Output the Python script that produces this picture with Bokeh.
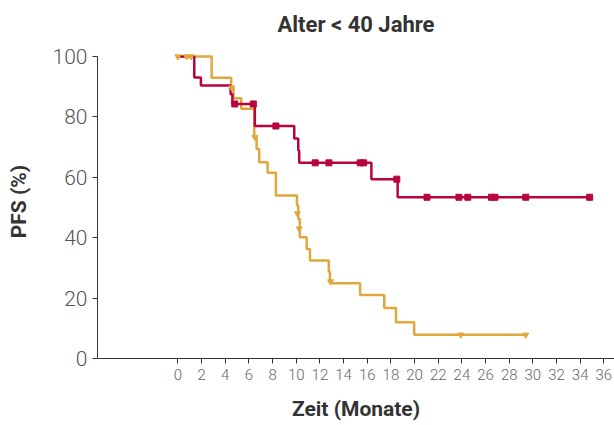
from bokeh.plotting import figure
from bokeh.models import Range1d, FixedTicker
from bokeh.embed import file_html
from bokeh.resources import INLINE

# Kaplan-Meier step data (time in months, PFS in %)
red_t = [0, 1.38, 1.94, 4.45, 4.6, 6.5, 9.83, 10.17, 10.25, 16.35, 18.57, 34.8]
red_s = [100, 93.1, 90.4, 87.5, 84.3, 77.0, 72.9, 68.9, 64.8, 59.4, 53.4, 53.4]
red_cens_t = [4.8, 6.37, 8.28, 11.6, 12.76, 15.4, 15.7, 18.5, 21.05, 23.75, 24.5, 26.5, 26.8, 29.4, 34.8]
red_cens_s = [84.3, 84.3, 77.0, 64.8, 64.8, 64.8, 64.8, 59.4, 53.4, 53.4, 53.4, 53.4, 53.4, 53.4, 53.4]

gold_t = [0, 2.85, 4.5, 4.7, 5.35, 6.45, 6.65, 6.87, 7.58, 8.28, 10.06, 10.17, 10.3,
          10.88, 11.16, 12.75, 12.85, 15.4, 17.44, 18.43, 19.97, 29.4]
gold_s = [100, 93.0, 89.7, 86.2, 82.7, 73.3, 69.4, 65.0, 61.5, 54.0, 50.7, 46.2, 40.2,
          36.3, 32.5, 28.7, 24.9, 21.0, 16.7, 12.0, 7.85, 7.85]
gold_cens_t = [0.0, 0.73, 1.1, 4.55, 6.5, 10.1, 10.25, 12.9, 23.9, 29.4]
gold_cens_s = [100, 100, 100, 89.7, 73.3, 48.0, 43.0, 25.5, 7.85, 7.85]

x_ticks = list(range(0, 37, 2))
y_ticks = [0, 20, 40, 60, 80, 100]

RED = "#B8043F"
GOLD = "#E0A83C"
FONT = "Roboto"
LIGHT = "Roboto Light, Roboto"

p = figure(width=614, height=425, output_backend="svg", toolbar_location=None,
           x_range=Range1d(-6.8, 36.9), y_range=Range1d(0, 104),
           title="Alter < 40 Jahre", min_border_left=97, min_border_right=0,
           min_border_top=44, min_border_bottom=67)
p.outline_line_color = None
p.grid.grid_line_color = None
p.background_fill_color = "white"
p.border_fill_color = "white"

p.title.align = "center"
p.title.text_font = FONT
p.title.text_font_size = "22px"
p.title.text_font_style = "bold"
p.title.text_color = "#333333"
p.title.standoff = 16

for ax in (p.xaxis[0], p.yaxis[0]):
    ax.axis_line_color = "#333333"
    ax.major_tick_line_color = "#333333"
    ax.minor_tick_line_color = None
    ax.major_tick_in = 0
    ax.major_tick_out = 5
    ax.axis_label_text_font = FONT
    ax.axis_label_text_font_style = "bold"
    ax.axis_label_text_color = "#333333"
    ax.axis_label_text_font_size = "21px"
    ax.major_label_text_font = LIGHT

p.xaxis.ticker = FixedTicker(ticks=x_ticks)
p.xaxis.axis_label = "Zeit (Monate)"
p.xaxis.major_label_text_font_size = "15px"
p.xaxis.major_label_text_color = "#666666"
p.xaxis.major_label_standoff = 5
p.xaxis.axis_label_standoff = 14

p.yaxis.ticker = FixedTicker(ticks=y_ticks)
p.yaxis.bounds = (0, 100)
p.yaxis.axis_label = "PFS (%)"
p.yaxis.major_label_text_font_size = "21px"
p.yaxis.major_label_text_color = "#555555"
p.yaxis.major_label_standoff = 5
p.yaxis.axis_label_standoff = 19

p.step(gold_t, gold_s, mode="after", line_color=GOLD, line_width=2.5)
p.step(red_t, red_s, mode="after", line_color=RED, line_width=2.5)
p.scatter(red_cens_t, red_cens_s, marker="square", size=6, fill_color=RED, line_color=RED)
p.scatter(gold_cens_t, gold_cens_s, marker="inverted_triangle", size=6, fill_color=GOLD, line_color=GOLD)

open("out.html", "w").write(file_html(p, INLINE))
